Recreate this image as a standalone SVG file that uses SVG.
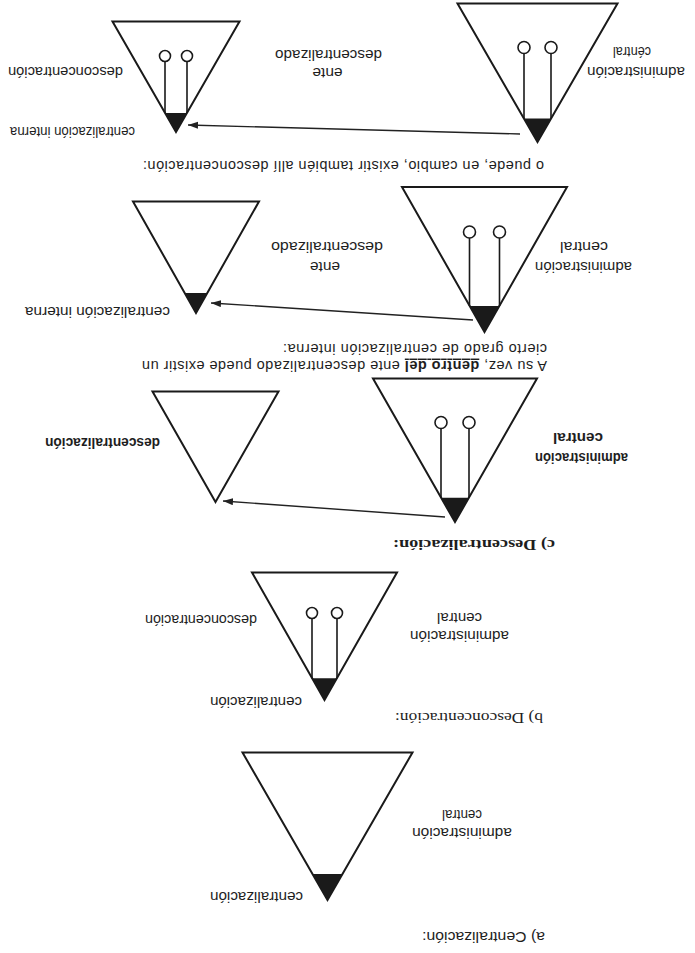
<svg xmlns="http://www.w3.org/2000/svg" width="695" height="953" viewBox="0 0 695 953">
<style>
  .tri{fill:none;stroke:#1a1a1a;stroke-width:2;stroke-linejoin:miter}
  .apex{fill:#1a1a1a}
  .stem{stroke:#1a1a1a;stroke-width:1.6;fill:none}
  .bulb{fill:#fff;stroke:#1a1a1a;stroke-width:1.6}
  .lbl{font-family:"Liberation Sans",Arial,sans-serif;font-size:14px;fill:#1e1e1e}
  .mid{text-anchor:middle}
  .b{font-weight:bold}
  .head{font-family:"Liberation Sans",Arial,sans-serif;font-size:14.5px;fill:#1e1e1e}
  .serif{font-family:"Liberation Serif","Times New Roman",serif;font-size:15px;fill:#1e1e1e}
  .conn{stroke:#222;stroke-width:1.4;fill:none;marker-end:url(#arrow)}
</style>
<defs>
  <marker id="arrow" markerUnits="userSpaceOnUse" markerWidth="11" markerHeight="8" refX="10" refY="3.5" orient="auto">
    <path d="M0,0 L10,3.5 L0,7 z" fill="#222"/>
  </marker>
</defs>
<rect width="695" height="953" fill="#fff"/>

<!-- the page is printed upside down: draw upright, then turn it half a revolution -->
<g transform="rotate(180 347.5 476.5)">

  <!-- a) Centralización -->
  <text class="head" x="150" y="21" textLength="123" lengthAdjust="spacingAndGlyphs">a) Centralización:</text>
  <g id="a-central">
    <polygon class="tri" points="367.5,53 452.5,200.5 282.5,200.5"/>
    <path class="apex" d="M367.5,53 L382.5,79 L352.5,79 Z"/>
    <text class="lbl" x="392" y="61" textLength="93" lengthAdjust="spacingAndGlyphs">centralización</text>
    <text class="lbl mid" x="233" y="125" textLength="100" lengthAdjust="spacingAndGlyphs">administración</text>
    <text class="lbl mid" x="233" y="143" textLength="40" lengthAdjust="spacingAndGlyphs">central</text>
  </g>

  <!-- b) Desconcentración -->
  <text class="serif" x="152" y="240" textLength="148" lengthAdjust="spacingAndGlyphs">b) Desconcentración:</text>
  <g id="b-central">
    <polygon class="tri" points="370.5,253 443,380.5 298,380.5"/>
    <path class="apex" d="M370.5,253 L383,274.7 L358,274.7 Z"/>
    <path class="stem" d="M358,274.7 V334.5 M383,274.7 V334.5"/>
    <circle class="bulb" cx="358" cy="340" r="5.5"/>
    <circle class="bulb" cx="383" cy="340" r="5.5"/>
    <text class="lbl" x="393" y="256" textLength="92" lengthAdjust="spacingAndGlyphs">centralización</text>
    <text class="lbl" x="438" y="338" textLength="112" lengthAdjust="spacingAndGlyphs">desconcentración</text>
    <text class="lbl mid" x="235.5" y="322" textLength="99" lengthAdjust="spacingAndGlyphs">administración</text>
    <text class="lbl mid" x="235.5" y="340" textLength="45" lengthAdjust="spacingAndGlyphs">central</text>
  </g>

  <!-- c) Descentralización -->
  <text class="serif b" x="140" y="413" textLength="162" lengthAdjust="spacingAndGlyphs">c) Descentralización:</text>
  <g id="c-central">
    <polygon class="tri" points="240,431 322,574.5 158,574.5"/>
    <path class="apex" d="M240,431 L254,455.3 L226,455.3 Z"/>
    <path class="stem" d="M226,455.3 V524.5 M254,455.3 V524.5"/>
    <circle class="bulb" cx="226" cy="530.5" r="6"/>
    <circle class="bulb" cx="254" cy="530.5" r="6"/>
    <text class="lbl mid b" x="113.5" y="500" textLength="93" lengthAdjust="spacingAndGlyphs">administración</text>
    <text class="lbl mid b" x="117" y="520" textLength="50" lengthAdjust="spacingAndGlyphs">central</text>
  </g>
  <g id="c-ente">
    <polygon class="tri" points="479.5,451 542.5,561.5 416.5,561.5"/>
    <text class="lbl b" x="535" y="515" textLength="115" lengthAdjust="spacingAndGlyphs">descentralización</text>
  </g>

  <!-- internal centralization inside the decentralized body -->
  <text class="head" x="148" y="592" textLength="405" lengthAdjust="spacing">A su vez, <tspan class="b" text-decoration="underline">dentro del</tspan> ente descentralizado puede existir un</text>
  <text class="head" x="148" y="609" textLength="264" lengthAdjust="spacing">cierto grado de centralización interna:</text>
  <g id="d-central">
    <polygon class="tri" points="210.5,621 293,766 128,766"/>
    <path class="apex" d="M210.5,621 L225.5,647 L195.5,647 Z"/>
    <path class="stem" d="M195.5,647 V715 M225.5,647 V715"/>
    <circle class="bulb" cx="195.5" cy="721" r="6"/>
    <circle class="bulb" cx="225.5" cy="721" r="6"/>
    <text class="lbl mid" x="111.5" y="691" textLength="97" lengthAdjust="spacingAndGlyphs">administración</text>
    <text class="lbl mid" x="111" y="711" textLength="48" lengthAdjust="spacingAndGlyphs">central</text>
    <text class="lbl mid" x="370" y="691" textLength="30" lengthAdjust="spacingAndGlyphs">ente</text>
    <text class="lbl mid" x="368" y="711" textLength="112" lengthAdjust="spacingAndGlyphs">descentralizado</text>
  </g>
  <g id="d-ente">
    <polygon class="tri" points="499,640 562,751.5 436,751.5"/>
    <path class="apex" d="M499,640 L510.5,660 L487.5,660 Z"/>
    <text class="lbl" x="525" y="646" textLength="145" lengthAdjust="spacingAndGlyphs">centralización interna</text>
  </g>

  <!-- internal centralization plus deconcentration -->
  <text class="head" x="151" y="792" textLength="401" lengthAdjust="spacing">o puede, en cambio, existir también allí desconcentración:</text>
  <g id="e-central">
    <polygon class="tri" points="157.5,811 237.5,949.5 77.5,949.5"/>
    <path class="apex" d="M157.5,811 L171,834.4 L144,834.4 Z"/>
    <path class="stem" d="M144,834.4 V899.5 M171,834.4 V899.5"/>
    <circle class="bulb" cx="144" cy="905.5" r="6"/>
    <circle class="bulb" cx="171" cy="905.5" r="6"/>
    <text class="lbl mid" x="59" y="886" textLength="98" lengthAdjust="spacingAndGlyphs">administración</text>
    <text class="lbl mid" x="63" y="906" textLength="38" lengthAdjust="spacingAndGlyphs">céntral</text>
    <text class="lbl mid" x="367.5" y="885" textLength="30" lengthAdjust="spacingAndGlyphs">ente</text>
    <text class="lbl mid" x="366.5" y="903" textLength="107" lengthAdjust="spacingAndGlyphs">descentralizado</text>
  </g>
  <g id="e-ente">
    <polygon class="tri" points="519,821 582.5,931.5 455.5,931.5"/>
    <path class="apex" d="M519,821 L530,840 L508,840 Z"/>
    <path class="stem" d="M508,840 V891.5 M530,840 V891.5"/>
    <circle class="bulb" cx="508" cy="897" r="5.5"/>
    <circle class="bulb" cx="530" cy="897" r="5.5"/>
    <text class="lbl" x="560" y="826" textLength="125" lengthAdjust="spacingAndGlyphs">centralización interna</text>
    <text class="lbl" x="572" y="886" textLength="115" lengthAdjust="spacingAndGlyphs">desconcentración</text>
  </g>

  <!-- connectors: central administration to the decentralized body -->
  <g id="connectors">
    <line class="conn" x1="250" y1="436" x2="472" y2="452"/>
    <line class="conn" x1="222" y1="633" x2="484" y2="650"/>
    <line class="conn" x1="175" y1="819" x2="507" y2="828"/>
  </g>
</g>
</svg>
